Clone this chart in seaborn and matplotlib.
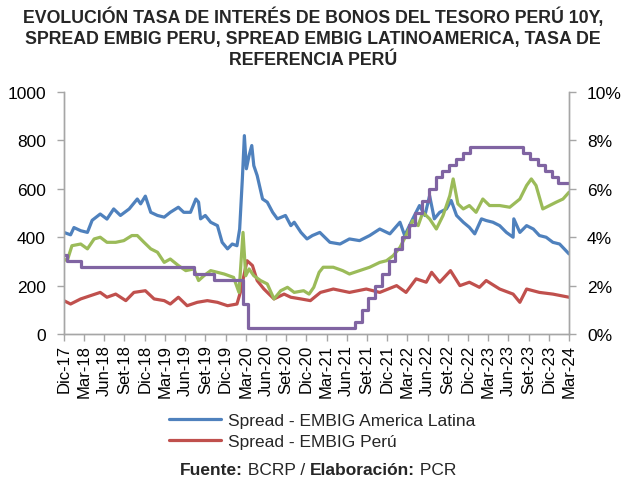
import matplotlib
matplotlib.use("Agg")
import matplotlib.pyplot as plt
import seaborn as sns
import pandas as pd
from matplotlib.lines import Line2D

# months counted from Dic-17 (0) to Mar-24 (75)
tick_pos = list(range(0, 76, 3))
tick_labels = ["Dic-17", "Mar-18", "Jun-18", "Set-18", "Dic-18", "Mar-19", "Jun-19",
               "Set-19", "Dic-19", "Mar-20", "Jun-20", "Set-20", "Dic-20", "Mar-21",
               "Jun-21", "Set-21", "Dic-21", "Mar-22", "Jun-22", "Set-22", "Dic-22",
               "Mar-23", "Jun-23", "Set-23", "Dic-23", "Mar-24"]

# Spread EMBIG America Latina (pb)
latam_m = [0, 1, 1.5, 2.5, 3.5, 4.2, 5.4, 6.4, 7.4, 8.4, 9.7, 10.9, 11.4, 12.1, 12.9,
           13.9, 14.9, 15.8, 17, 17.8, 18.8, 19.6, 20, 20.3, 21, 21.8, 22.8, 23.5,
           24.3, 25, 25.7, 26.1, 26.5, 26.8, 27.1, 27.5, 27.9, 28.2, 28.7, 29.5, 30.2,
           31, 31.7, 32.9, 33.7, 34.2, 35.2, 36.1, 36.9, 38, 39.5, 41, 42.4, 43.9,
           45.4, 46.9, 48.4, 49.9, 50.6, 51.8, 52.8, 53.6, 54.3, 55, 55.8, 56.8, 57.5,
           58.3, 59.3, 60.2, 61, 62, 62.7, 63.7, 64.7, 65.7, 66.7, 66.8, 67.7, 68.7,
           69.7, 70.6, 71.6, 72.6, 73.6, 75]
latam_v = [420, 410, 440, 427, 420, 470, 496, 475, 517, 490, 517, 558, 538, 570, 503,
           490, 483, 503, 524, 503, 503, 558, 545, 476, 490, 462, 448, 379,
           352, 372, 365, 434, 641, 820, 683, 738, 779, 696, 655, 558, 545,
           503, 476, 490, 448, 462, 420, 393, 407, 420, 379, 372, 393, 386,
           407, 434, 414, 462, 407, 476, 531, 490, 572, 476, 503, 517, 552,
           490, 462, 441, 414, 476, 469, 462, 448, 420, 400, 476, 420, 448,
           434, 407, 400, 379, 372, 331]

# Spread EMBIG Peru (pb)
peru_m = [0, 1, 2.5, 4, 5.4, 6.4, 7.7, 9.2, 10.4, 12.1, 13.4, 14.9, 15.8, 17, 18.3,
          19.8, 21.3, 22.8, 24.3, 25.7, 26.2, 27.2, 28, 28.7, 29.7, 31.2, 32.7, 33.7,
          35.2, 36.6, 38.1, 40, 42.4, 44.9, 46.9, 49.4, 50.8, 52.3, 53.8, 54.6, 55.8,
          57.4, 58.8, 60.2, 61.7, 62.7, 64.7, 66.7, 67.7, 68.7, 70.6, 72.6, 75]
peru_v = [138, 124, 145, 159, 172, 152, 165, 138, 172, 179, 145, 138, 124, 152, 117,
          131, 138, 131, 117, 124, 172, 303, 283, 221, 186, 145, 165, 152,
          145, 138, 172, 186, 172, 186, 172, 200, 172, 228, 214, 255, 214,
          262, 200, 214, 193, 221, 186, 165, 131, 186, 172, 165, 152]

# Tasa bonos del Tesoro Peru 10Y (%)
bono_m = [0, 0.5, 1.2, 2.5, 3.5, 4.5, 5.4, 6.4, 7.7, 8.9, 10.1, 10.9, 11.9, 12.9, 13.9,
          14.9, 15.8, 17, 18.1, 19.3, 20, 20.8, 21.8, 22.8, 23.8, 25.2, 26, 26.6, 27,
          27.5, 28.2, 29.2, 30.2, 31.2, 32.2, 33.2, 34.2, 35.6, 36.4, 37.1, 37.9, 38.5,
          40, 41.4, 42.4, 43.9, 45.4, 46.9, 47.9, 48.9, 49.9, 50.8, 51.8, 52.6, 53.3,
          54.3, 55.3, 56.3, 57.3, 57.8, 58.5, 59.3, 60.2, 61.2, 62.2, 63.2, 64.7, 66.2,
          67.7, 68.7, 69.4, 70.1, 71.1, 72.1, 73.1, 74.1, 75]
bono_v = [3.10, 3.03, 3.65, 3.72, 3.52, 3.93, 4.00, 3.79, 3.79, 3.86, 4.07, 4.07, 3.79,
          3.52, 3.38, 2.96, 3.10, 2.83, 2.62, 2.69, 2.21, 2.41, 2.62, 2.55, 2.48, 2.34,
          1.72, 4.20, 2.41, 2.69, 2.41, 2.21, 2.07, 1.45, 1.79, 1.93, 1.72, 1.79, 1.65,
          1.93, 2.55, 2.76, 2.76, 2.62, 2.48, 2.62, 2.76, 2.96, 3.03, 3.24, 3.58, 4.07,
          4.69, 4.48, 5.03, 4.76, 4.34, 4.90, 5.72, 6.41, 5.38, 5.17, 5.31, 5.03, 5.58,
          5.31, 5.31, 5.24, 5.58, 6.14, 6.41, 6.14, 5.17, 5.31, 5.45, 5.58, 5.86]

# Tasa de referencia Peru (%)
ref_m = [0, 0.5, 2.5, 19.3, 22.3, 26.6, 27.3, 43.2, 44.2, 45.2, 46.2, 47.2, 48.2, 49.2,
         50.2, 51.2, 52.2, 53.2, 54.2, 55.2, 56.2, 57.2, 58.2, 59.3, 60.3, 68.2, 69.2,
         70.4, 71.4, 72.4, 73.4, 75]
ref_v = [3.25, 3.0, 2.75, 2.5, 2.25, 1.25, 0.25, 0.5, 1.0, 1.5, 2.0, 2.5, 3.0, 3.5,
         4.0, 4.5, 5.0, 5.5, 6.0, 6.5, 6.75, 7.0, 7.25, 7.5, 7.75, 7.5, 7.25,
         7.0, 6.75, 6.5, 6.25, 6.25]

c_blue = "#4F81BD"
c_red = "#C0504D"
c_green = "#9BBB59"
c_purple = "#8064A2"
grey = "#A6A6A6"

sns.set_style("white")
plt.rcParams["font.family"] = ["Liberation Sans", "DejaVu Sans"]

fig = plt.figure(figsize=(6.26, 4.81), dpi=100)
ax = fig.add_axes([0.102, 0.3035, 0.807, 0.503])
ax2 = ax.twinx()

sns.lineplot(x=latam_m, y=latam_v, ax=ax, color=c_blue, lw=2.3)
sns.lineplot(x=peru_m, y=peru_v, ax=ax, color=c_red, lw=2.3)
sns.lineplot(x=bono_m, y=bono_v, ax=ax2, color=c_green, lw=2.3)
sns.lineplot(x=ref_m, y=ref_v, ax=ax2, color=c_purple, lw=2.3, drawstyle="steps-post")

ax.set_xlim(0, 75)
ax.set_ylim(0, 1000)
ax2.set_ylim(0, 10)
ax.set_yticks(range(0, 1001, 200))
ax2.set_yticks(range(0, 11, 2))
ax2.set_yticklabels([f"{v}%" for v in range(0, 11, 2)])
ax.set_xticks(tick_pos)
ax.set_xticklabels(tick_labels, rotation=90)

for a in (ax, ax2):
    a.spines["top"].set_visible(False)
    for s in ("left", "right", "bottom"):
        a.spines[s].set_color(grey)
        a.spines[s].set_linewidth(1)
    a.tick_params(colors=grey, labelcolor="black", labelsize=12.5, length=5, width=1,
                  direction="out")
ax.tick_params(axis="x", labelsize=12)
ax.tick_params(axis="y", pad=8)
ax2.tick_params(axis="y", pad=8)
ax.tick_params(axis="x", pad=2)
ax.tick_params(left=True, bottom=True)
ax2.tick_params(right=True)

fig.text(0.5, 0.985,
         "EVOLUCIÓN TASA DE INTERÉS DE BONOS DEL TESORO PERÚ 10Y,\n"
         "SPREAD EMBIG PERU, SPREAD EMBIG LATINOAMERICA, TASA DE\n"
         "REFERENCIA PERÚ",
         ha="center", va="top", fontsize=12.8, fontweight="bold", linespacing=1.3)

handles = [Line2D([], [], color=c_blue, lw=2.3), Line2D([], [], color=c_red, lw=2.3)]
fig.legend(handles, ["Spread - EMBIG America Latina", "Spread - EMBIG Perú"],
           loc="upper left", bbox_to_anchor=(0.27, 0.14), frameon=False,
           fontsize=12.5, handlelength=3.0, handletextpad=0.4, labelspacing=0.35,
           borderaxespad=0, borderpad=0)

t1 = fig.text(0.288, 0.012, "Fuente:", fontsize=12.5, fontweight="bold", ha="left")
fig.canvas.draw()
r = fig.canvas.get_renderer()
x = t1.get_window_extent(r).x1 / fig.bbox.width
t2 = fig.text(x, 0.012, " BCRP / ", fontsize=12.5, ha="left")
x = t2.get_window_extent(r).x1 / fig.bbox.width
t3 = fig.text(x, 0.012, "Elaboración:", fontsize=12.5, fontweight="bold", ha="left")
x = t3.get_window_extent(r).x1 / fig.bbox.width
fig.text(x, 0.012, " PCR", fontsize=12.5, ha="left")

fig.savefig("out.png", dpi=100)
